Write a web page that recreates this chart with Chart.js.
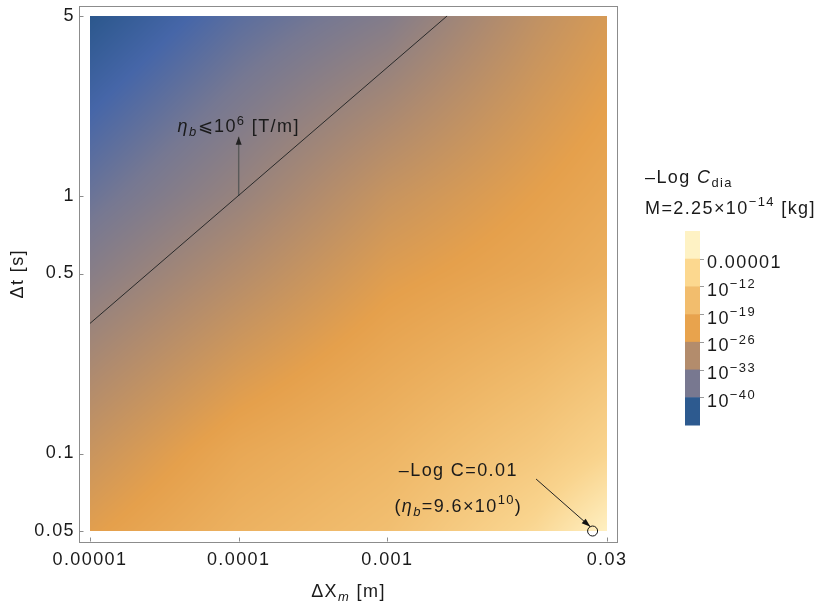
<!DOCTYPE html>
<html><head><meta charset="utf-8">
<script src="https://cdn.jsdelivr.net/npm/chart.js@4.4.0/dist/chart.umd.min.js"></script>
<style>html,body{margin:0;padding:0;background:#fff;}canvas{display:block;}</style>
</head><body>
<canvas id="c" width="830" height="606"></canvas>
<script>
const FONT = '"Liberation Sans", Arial, sans-serif';
const SPACING = '1.4px';

// ---- data ----
// grid nodes of the density plot
const xNodes = [0.00001, 0.0001, 0.001, 0.01, 0.03];   // ΔX_m [m]
const tNodes = [5, 1, 0.5, 0.1, 0.05];                  // Δt [s]
// exponent of (−Log C_dia) at the nodes, one row per Δt node
const expRowT5   = [-44.0, -38.8, -35.0, -27.5, -24.5];
const expRowT1   = [-37.5, -32.5, -26.5, -22.5, -20.5];
const expRowT05  = [-34.4, -29.0, -23.5, -20.5, -18.5];
const expRowT01  = [-26.3, -20.5, -17.0, -12.0, -8.5];
const expRowT005 = [-23.0, -18.0, -14.5, -7.5, -2.0];

// η_b = 10^6 T/m boundary line
const etaLineX = [0.00001, 0.00252];
const etaLineT = [0.32, 5];
// arrow η_b ≤ 10^6
const arrowEtaX = [0.0001, 0.0001];
const arrowEtaT = [1, 1.70];
// marked point −Log C = 0.01
const markX = [0.024];
const markT = [0.05];
const arrowMarkX = [0.0100, 0.0232];
const arrowMarkT = [0.0796, 0.0519];

// axes ticks
const xTickValues = [0.00001, 0.0001, 0.001, 0.03];
const xTickLabels = ['0.00001', '0.0001', '0.001', '0.03'];
const yTickValues = [0.05, 0.1, 0.5, 1, 5];
const yTickLabels = ['0.05', '0.1', '0.5', '1', '5'];

// colour function (exponent -> colour)
const colorStopValues = [-44, -40.5, -36.5, -29.5, -22.5, -15.5, -8.5, -2, 0];
const colorStopColors = ['#2b578c', '#4666a8', '#767892', '#b08b6e', '#e5a04c', '#f0bb6c', '#f9d48e', '#fff0c2', '#fff4cc'];

// legend bands (top to bottom) and boundary labels
const legendBandColors = ['#fef2c4', '#fcd88f', '#f2bd6d', '#e8a34d', '#b38c6c', '#787890', '#2d5a8f'];
const legendLabelBase = ['0.00001', '10', '10', '10', '10', '10'];
const legendLabelExp  = ['', '\u221212', '\u221219', '\u221226', '\u221233', '\u221240'];

const expGrid = [expRowT5, expRowT1, expRowT05, expRowT01, expRowT005];

// ---- helpers ----
function hexRgb(h){ return [parseInt(h.slice(1,3),16), parseInt(h.slice(3,5),16), parseInt(h.slice(5,7),16)]; }
const stopRgb = colorStopColors.map(hexRgb);
function colorOf(v){
  const n = colorStopValues.length;
  if (v <= colorStopValues[0]) return stopRgb[0];
  if (v >= colorStopValues[n-1]) return stopRgb[n-1];
  let i = 0; while (v > colorStopValues[i+1]) i++;
  const f = (v - colorStopValues[i]) / (colorStopValues[i+1] - colorStopValues[i]);
  const a = stopRgb[i], b = stopRgb[i+1];
  return [a[0]+(b[0]-a[0])*f, a[1]+(b[1]-a[1])*f, a[2]+(b[2]-a[2])*f];
}
const LX = xNodes.map(Math.log10), LT = tNodes.map(Math.log10);
function seg(arr, v){
  for (let i = 0; i < arr.length-1; i++){
    const lo = Math.min(arr[i], arr[i+1]), hi = Math.max(arr[i], arr[i+1]);
    if (v >= lo && v <= hi) return [i, (v-arr[i])/(arr[i+1]-arr[i])];
  }
  if (Math.abs(v-arr[0]) < Math.abs(v-arr[arr.length-1])) return [0, 0];
  return [arr.length-2, 1];
}
function fieldAt(lx, lt){
  const [i, fx] = seg(LX, lx), [j, fy] = seg(LT, lt);
  const a = expGrid[j][i], b = expGrid[j][i+1], c = expGrid[j+1][i], d = expGrid[j+1][i+1];
  return (a*(1-fx)+b*fx)*(1-fy) + (c*(1-fx)+d*fx)*fy;
}
function drawRich(ctx, segs, x, y, align, size){
  const parts = segs.map(s => {
    const sz = (s.sub || s.sup) ? size*0.72 : size;
    const font = (s.it ? 'italic ' : '') + sz + 'px ' + FONT;
    ctx.font = font;
    return {t: s.t, font, w: ctx.measureText(s.t).width, dy: s.sub ? size*0.24 : (s.sup ? -size*0.42 : 0)};
  });
  const total = parts.reduce((a,p)=>a+p.w, 0);
  let cx = align === 'center' ? x - total/2 : (align === 'right' ? x - total : x);
  ctx.textAlign = 'left'; ctx.textBaseline = 'alphabetic';
  for (const p of parts){ ctx.font = p.font; ctx.fillText(p.t, cx, y + p.dy); cx += p.w; }
}
function arrowHead(ctx, p1, p2, len, half, color){
  const ang = Math.atan2(p2.y-p1.y, p2.x-p1.x);
  ctx.save(); ctx.translate(p2.x, p2.y); ctx.rotate(ang);
  ctx.beginPath(); ctx.moveTo(0,0); ctx.lineTo(-len, half); ctx.lineTo(-len, -half); ctx.closePath();
  ctx.fillStyle = color; ctx.fill(); ctx.restore();
}

// ---- plugins ----
const spacingPlugin = {
  id: 'spacing',
  beforeDraw(chart){ chart.ctx.letterSpacing = SPACING; }
};

const densityPlugin = {
  id: 'density',
  beforeDatasetsDraw(chart){
    const xs = chart.scales.x, ys = chart.scales.y, ctx = chart.ctx;
    const x0 = Math.round(xs.getPixelForValue(xNodes[0])), x1 = Math.round(xs.getPixelForValue(xNodes[xNodes.length-1]));
    const y0 = Math.round(ys.getPixelForValue(tNodes[0])), y1 = Math.round(ys.getPixelForValue(tNodes[tNodes.length-1]));
    const W = x1 - x0, H = y1 - y0;
    const off = document.createElement('canvas'); off.width = W; off.height = H;
    const octx = off.getContext('2d'); const img = octx.createImageData(W, H);
    const lxs = [], lts = [];
    for (let i = 0; i < W; i++) lxs.push(Math.log10(xs.getValueForPixel(x0+i+0.5)));
    for (let j = 0; j < H; j++) lts.push(Math.log10(ys.getValueForPixel(y0+j+0.5)));
    for (let j = 0; j < H; j++) for (let i = 0; i < W; i++){
      const c = colorOf(fieldAt(lxs[i], lts[j])); const k = (j*W+i)*4;
      img.data[k] = c[0]; img.data[k+1] = c[1]; img.data[k+2] = c[2]; img.data[k+3] = 255;
    }
    octx.putImageData(img, 0, 0);
    ctx.drawImage(off, x0, y0);
  }
};

const decorPlugin = {
  id: 'decor',
  afterDatasetsDraw(chart){
    const ctx = chart.ctx, xs = chart.scales.x, ys = chart.scales.y, a = chart.chartArea;
    ctx.save();
    ctx.letterSpacing = SPACING;
    // arrowheads
    const m2 = chart.getDatasetMeta(2).data, m4 = chart.getDatasetMeta(4).data;
    arrowHead(ctx, m2[0], m2[1], 8, 3, '#222');
    arrowHead(ctx, m4[0], m4[1], 9, 3, '#111');
    // frame
    ctx.strokeStyle = '#8c8c8c'; ctx.lineWidth = 1;
    ctx.strokeRect(Math.floor(a.left)+0.5, Math.floor(a.top)+0.5, Math.round(a.right-a.left), Math.round(a.bottom-a.top));
    ctx.beginPath();
    xTickValues.forEach(v => { const p = Math.round(xs.getPixelForValue(v))+0.5; ctx.moveTo(p, a.bottom); ctx.lineTo(p, a.bottom-4); });
    yTickValues.forEach(v => { const p = Math.round(ys.getPixelForValue(v))+0.5; ctx.moveTo(a.left, p); ctx.lineTo(a.left+4, p); });
    ctx.stroke();
    // annotations
    ctx.fillStyle = '#1a1a1a';
    drawRich(ctx, [{t:'\u03b7', it:1},{t:'b', it:1, sub:1},{t:'\u2A7D'},{t:'10'},{t:'6', sup:1},{t:' [T/m]'}],
      xs.getPixelForValue(0.0001), ys.getPixelForValue(1.77), 'center', 18);
    drawRich(ctx, [{t:'\u2013Log C=0.01'}], xs.getPixelForValue(0.003), ys.getPixelForValue(0.0817), 'center', 18);
    drawRich(ctx, [{t:'('},{t:'\u03b7', it:1},{t:'b', it:1, sub:1},{t:'=9.6\u00d710'},{t:'10', sup:1},{t:')'}],
      xs.getPixelForValue(0.003), ys.getPixelForValue(0.0595), 'center', 18);
    // axis titles
    drawRich(ctx, [{t:'\u0394X'},{t:'m', it:1, sub:1},{t:' [m]'}], (a.left+a.right)/2, 597, 'center', 18);
    ctx.save(); ctx.translate(23, (a.top+a.bottom)/2); ctx.rotate(-Math.PI/2);
    drawRich(ctx, [{t:'\u0394t [s]'}], 0, 0, 'center', 18);
    ctx.restore();
    // legend
    drawRich(ctx, [{t:'\u2013Log '},{t:'C', it:1},{t:'dia', sub:1}], 645, 183, 'left', 18);
    drawRich(ctx, [{t:'M=2.25\u00d710'},{t:'\u221214', sup:1},{t:' [kg]'}], 645, 214, 'left', 18);
    const bx = 685, bw = 15, by = 231, bh = 194, nb = legendBandColors.length, step = bh/nb;
    legendBandColors.forEach((c, i) => { ctx.fillStyle = c; ctx.fillRect(bx, by + i*step, bw, step + 0.5); });
    ctx.strokeStyle = '#9a9a9a'; ctx.beginPath();
    for (let i = 1; i < nb; i++){ const yy = Math.round(by + i*step)+0.5; ctx.moveTo(bx+bw, yy); ctx.lineTo(bx+bw+4, yy); }
    ctx.stroke();
    ctx.fillStyle = '#1a1a1a';
    legendLabelBase.forEach((b, i) => {
      const yy = by + (i+1)*step + 9.5;
      const segs = [{t:b}]; if (legendLabelExp[i]) segs.push({t:legendLabelExp[i], sup:1});
      drawRich(ctx, segs, 707, yy, 'left', 18);
    });
    ctx.restore();
  }
};

const xMin = 8.50e-6, xMax = 0.03529, yMin = 0.04553, yMax = 5.467;

new Chart(document.getElementById('c'), {
  type: 'scatter',
  data: {
    datasets: [
      { data: etaLineX.map((x,i)=>({x, y: etaLineT[i]})), showLine: true, borderColor: '#2a2a2a', borderWidth: 1, pointRadius: 0 },
      { data: markX.map((x,i)=>({x, y: markT[i]})), pointRadius: 5, pointStyle: 'circle', borderColor: '#111', borderWidth: 1, backgroundColor: 'rgba(0,0,0,0)' },
      { data: arrowEtaX.map((x,i)=>({x, y: arrowEtaT[i]})), showLine: true, borderColor: '#5a5a5a', borderWidth: 1.4, pointRadius: 0 },
      { data: [], pointRadius: 0 },
      { data: arrowMarkX.map((x,i)=>({x, y: arrowMarkT[i]})), showLine: true, borderColor: '#222', borderWidth: 1, pointRadius: 0 }
    ]
  },
  options: {
    responsive: false, animation: false, devicePixelRatio: 1,
    layout: { padding: { left: 0, top: 4.5, right: 212.5, bottom: 0 } },
    plugins: { legend: { display: false }, tooltip: { enabled: false } },
    scales: {
      x: {
        type: 'logarithmic', min: xMin, max: xMax, bounds: 'data',
        afterBuildTicks: s => { s.ticks = xTickValues.map(v => ({value: v})); },
        afterFit: s => { s.height = 64.5; s.paddingLeft = 0; s.paddingRight = 0; s.paddingTop = 0; s.paddingBottom = 0; },
        grid: { display: false, drawTicks: false }, border: { display: false },
        ticks: { autoSkip: false, maxRotation: 0, padding: 8, color: '#1a1a1a', font: { family: FONT, size: 18 },
                 callback: (v, i) => xTickLabels[i] }
      },
      y: {
        type: 'logarithmic', min: yMin, max: yMax, bounds: 'data',
        afterBuildTicks: s => { s.ticks = yTickValues.map(v => ({value: v})); },
        afterFit: s => { s.width = 79.5; s.paddingLeft = 0; s.paddingRight = 0; s.paddingTop = 0; s.paddingBottom = 0; },
        grid: { display: false, drawTicks: false }, border: { display: false },
        ticks: { autoSkip: false, padding: 4.5, color: '#1a1a1a', font: { family: FONT, size: 18 },
                 callback: (v, i) => yTickLabels[i] }
      }
    }
  },
  plugins: [spacingPlugin, densityPlugin, decorPlugin]
});
</script>
</body></html>
